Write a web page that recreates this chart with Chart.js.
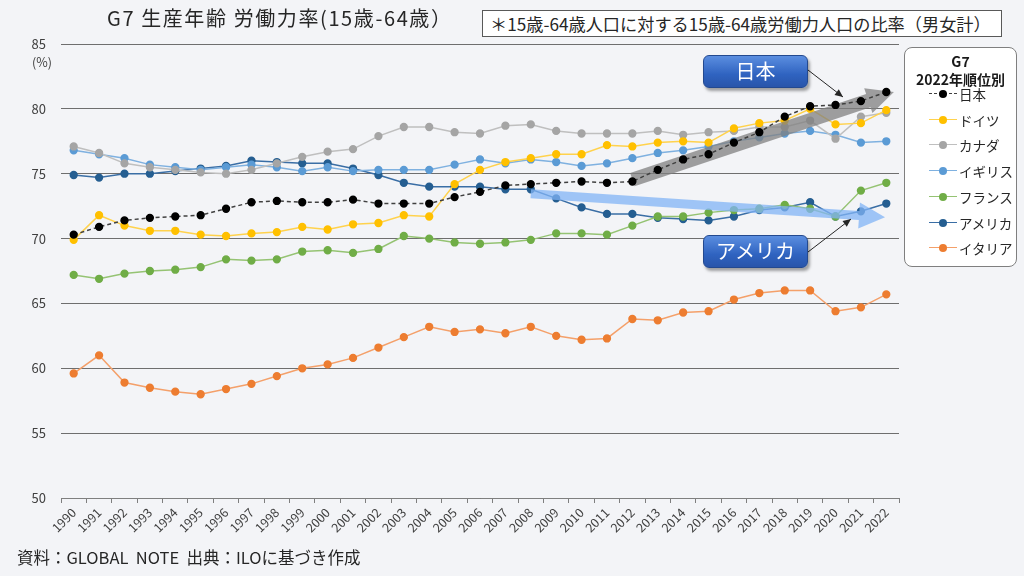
<!DOCTYPE html>
<html><head><meta charset="utf-8">
<script src="https://cdn.jsdelivr.net/npm/chart.js@4.4.1/dist/chart.umd.min.js"></script>
<style>
html,body{margin:0;padding:0;background:#f3f4f7;}
body{width:1024px;height:576px;position:relative;overflow:hidden;font-family:"Noto Sans CJK JP","Noto Sans",sans-serif;color:#262626;}
#wrap{position:absolute;left:0;top:0;width:1024px;height:576px;}
.abs{position:absolute;white-space:pre;}
#title{left:107px;top:3px;font-size:20px;letter-spacing:1.6px;color:#262626;}
#note{left:482px;top:10px;border:1px solid #595959;background:#fff;font-size:17.2px;line-height:25px;padding-left:7px;box-sizing:border-box;width:520px;height:27px;}
#pct{left:32px;top:52px;font-size:12.5px;color:#404040;}
#cap{left:17px;top:545px;font-size:16.5px;color:#262626;}
#legend{left:904px;top:47px;width:113px;height:220px;background:#fff;border:1px solid #7f7f7f;border-radius:8px;box-sizing:border-box;}
#legend .lt{position:absolute;left:0;width:111px;text-align:center;font-weight:bold;font-size:14px;color:#1a1a1a;}
#legend .it{position:absolute;left:0;height:16px;width:111px;}
#legend .it span.t{position:absolute;left:54px;top:-2px;font-size:13.5px;color:#262626;}
.lbl{position:absolute;width:103px;height:31px;border-radius:6px;background:linear-gradient(#5b8ee0,#2f63c0 60%,#2955aa);border:1px solid #23498f;box-shadow:2px 3px 3px rgba(0,0,0,0.35);color:#fff;font-size:20px;text-align:center;line-height:30px;}
</style></head>
<body>
<div id="wrap"><canvas id="c" width="1024" height="576"></canvas></div>
<div class="abs" id="title">G7 生産年齢 労働力率(15歳-64歳）</div>
<div class="abs" id="note">＊15歳-64歳人口に対する15歳-64歳労働力人口の比率（男女計）</div>
<div class="abs" id="pct">(%)</div>
<div class="abs" id="cap">資料：GLOBAL  NOTE  出典：ILOに基づき作成</div>
<div class="lbl" style="left:703px;top:55px;">日本</div>
<div class="lbl" style="left:703px;top:235px;">アメリカ</div>
<div class="abs" id="legend"></div>
<script>
const years = ["1990","1991","1992","1993","1994","1995","1996","1997","1998","1999","2000","2001","2002","2003","2004","2005","2006","2007","2008","2009","2010","2011","2012","2013","2014","2015","2016","2017","2018","2019","2020","2021","2022"];
const seriesNames = ["日本","ドイツ","カナダ","イギリス","フランス","アメリカ","イタリア"];
const japan   = [70.3,70.9,71.4,71.6,71.7,71.8,72.3,72.8,72.9,72.8,72.8,73.0,72.7,72.7,72.7,73.2,73.6,74.1,74.2,74.3,74.4,74.3,74.4,75.3,76.1,76.5,77.4,78.2,79.4,80.2,80.3,80.6,81.3];
const germany = [69.9,71.8,71.0,70.6,70.6,70.3,70.2,70.4,70.5,70.9,70.7,71.1,71.2,71.8,71.7,74.2,75.3,75.9,76.2,76.5,76.5,77.2,77.1,77.4,77.5,77.4,78.5,78.9,79.1,80.0,78.8,78.9,79.9];
const canada  = [77.1,76.6,75.8,75.5,75.3,75.1,75.0,75.3,75.8,76.3,76.7,76.9,77.9,78.6,78.6,78.2,78.1,78.7,78.8,78.3,78.1,78.1,78.1,78.3,78.0,78.2,78.3,78.6,78.6,79.1,77.7,79.4,79.7];
const uk      = [76.8,76.5,76.2,75.7,75.5,75.3,75.5,75.7,75.5,75.2,75.5,75.2,75.3,75.3,75.3,75.7,76.1,75.8,76.1,75.9,75.6,75.8,76.2,76.6,76.8,77.1,77.5,77.8,78.1,78.3,78.0,77.4,77.5];
const france  = [67.2,66.9,67.3,67.5,67.6,67.8,68.4,68.3,68.4,69.0,69.1,68.9,69.2,70.2,70.0,69.7,69.6,69.7,69.9,70.4,70.4,70.3,71.0,71.7,71.7,72.0,72.2,72.3,72.6,72.3,71.7,73.7,74.3];
const usa     = [74.9,74.7,75.0,75.0,75.2,75.4,75.6,76.0,75.9,75.8,75.8,75.4,74.9,74.3,74.0,74.0,74.0,73.8,73.8,73.1,72.4,71.9,71.9,71.6,71.5,71.4,71.7,72.2,72.4,72.8,71.7,72.1,72.7];
const italy   = [59.6,61.0,58.9,58.5,58.2,58.0,58.4,58.8,59.4,60.0,60.3,60.8,61.6,62.4,63.2,62.8,63.0,62.7,63.2,62.5,62.2,62.3,63.8,63.7,64.3,64.4,65.3,65.8,66.0,66.0,64.4,64.7,65.7];
const yTicks = [50,55,60,65,70,75,80,85];

const values = [japan,germany,canada,uk,france,usa,italy];
const pointColors = ["#000000","#ffc000","#a5a5a5","#5b9bd5","#70ad47","#255e91","#ed7d31"];
const lineColors  = ["#404040","#ffd24d","#bfbfbf","#7fb1e0","#95c373","#3a6ea5","#f4a06a"];

// legend
const lg = document.getElementById('legend');
lg.innerHTML = '<div class="lt" style="top:3px;">G7</div><div class="lt" style="top:21px;">2022年順位別</div>';
seriesNames.forEach((n,i)=>{
  const top = 38 + i*25.7;
  const dash = i===0 ? 'dashed' : 'solid';
  lg.innerHTML += `<div class="it" style="top:${top}px;">
   <div style="position:absolute;left:24px;top:7px;width:28px;border-top:1.5px ${dash} ${lineColors[i]};"></div>
   <div style="position:absolute;left:34px;top:4px;width:8px;height:8px;border-radius:50%;background:${pointColors[i]};"></div>
   <span class="t">${n}</span></div>`;
});

function blockArrow(ctx,x1,y1,x2,y2,sw,hw,hl,color){
  const a=Math.atan2(y2-y1,x2-x1), L=Math.hypot(x2-x1,y2-y1);
  ctx.save();ctx.translate(x1,y1);ctx.rotate(a);
  ctx.beginPath();
  ctx.moveTo(0,-sw/2);ctx.lineTo(L-hl,-sw/2);ctx.lineTo(L-hl,-hw);ctx.lineTo(L,0);
  ctx.lineTo(L-hl,hw);ctx.lineTo(L-hl,sw/2);ctx.lineTo(0,sw/2);ctx.closePath();
  ctx.fillStyle=color;ctx.fill();ctx.restore();
}
function thinArrow(ctx,x1,y1,x2,y2){
  const a=Math.atan2(y2-y1,x2-x1);
  ctx.save();ctx.strokeStyle='#262626';ctx.fillStyle='#262626';ctx.lineWidth=1;
  ctx.beginPath();ctx.moveTo(x1,y1);ctx.lineTo(x2,y2);ctx.stroke();
  ctx.beginPath();ctx.moveTo(x2,y2);
  ctx.lineTo(x2-8*Math.cos(a)+3.5*Math.sin(a),y2-8*Math.sin(a)-3.5*Math.cos(a));
  ctx.lineTo(x2-8*Math.cos(a)-3.5*Math.sin(a),y2-8*Math.sin(a)+3.5*Math.cos(a));
  ctx.closePath();ctx.fill();ctx.restore();
}
const annot = {
  id:'annot',
  beforeDatasetDraw(chart,args){
    if(args.index!==0) return;
    const {ctx,scales:{x,y}}=chart;
    blockArrow(ctx,x.getPixelForValue(18),y.getPixelForValue(73.45),x.getPixelForValue(31.95),y.getPixelForValue(71.65),9,13,26,'rgba(130,180,245,0.75)');
    blockArrow(ctx,x.getPixelForValue(22),y.getPixelForValue(74.55),x.getPixelForValue(32.3),y.getPixelForValue(81.3),14,13,27,'rgba(128,128,128,0.75)');
  },
  afterDraw(chart){
    const ctx=chart.ctx;
    thinArrow(ctx,808,70,843,97);
    thinArrow(ctx,808,252,851,219);
  }
};

new Chart(document.getElementById('c'),{
  type:'line',
  data:{labels:years,datasets:seriesNames.map((n,i)=>({
    label:n,data:values[i],borderColor:lineColors[i],backgroundColor:pointColors[i],
    pointBackgroundColor:pointColors[i],pointBorderColor:pointColors[i],
    borderWidth:1.5,pointRadius:3.4,borderDash:i===0?[4,3]:[],tension:0
  }))},
  options:{
    responsive:false,animation:false,events:[],
    layout:{padding:{top:44,right:125,left:0,bottom:0}},
    plugins:{legend:{display:false},tooltip:{enabled:false},title:{display:false}},
    scales:{
      x:{offset:true,
        grid:{display:true,drawOnChartArea:false,drawTicks:true,tickLength:5,offset:true,color:'#7f7f7f'},
        border:{display:true,color:'#7f7f7f'},
        ticks:{minRotation:45,maxRotation:45,autoSkip:false,padding:2,color:'#404040',font:{family:'"Noto Sans CJK JP"',size:12.5}},
        afterFit(s){s.height=78;}
      },
      y:{min:50,max:85,
        afterBuildTicks(s){s.ticks=yTicks.map(v=>({value:v}));},
        grid:{color:'#6e6e6e',drawTicks:false,lineWidth:1},
        border:{display:false},
        ticks:{padding:15,color:'#404040',font:{family:'"Noto Sans CJK JP"',size:13}},
        afterFit(s){s.width=61;}
      }
    }
  },
  plugins:[annot]
});
</script>
</body></html>
